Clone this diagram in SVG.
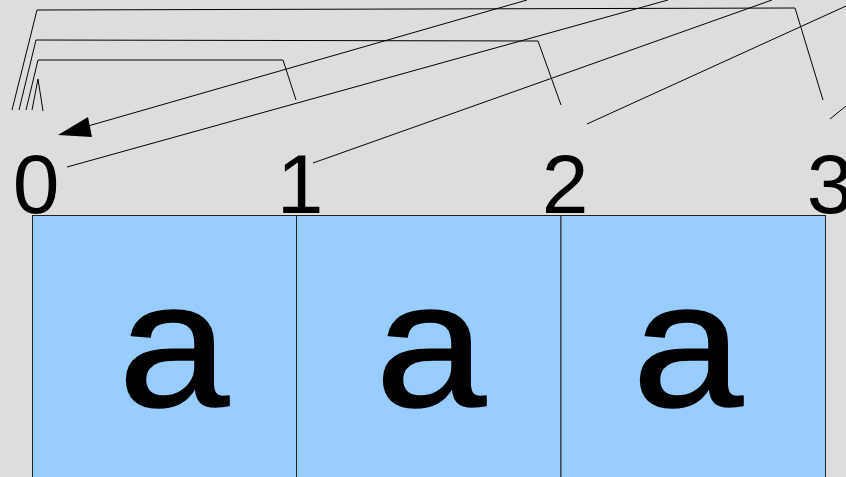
<svg xmlns="http://www.w3.org/2000/svg" width="846" height="477" viewBox="0 0 846 477">
<style>
.ln{fill:none;stroke:#000;stroke-width:1}
.num{font-family:"Liberation Sans",Arial,Helvetica,sans-serif;font-size:84px;fill:#000;text-anchor:middle}
.ch{font-family:"Liberation Mono","Courier New",monospace;font-size:178px;fill:#000;stroke:#000;stroke-width:1.5;stroke-linejoin:round;text-anchor:middle}
.cell{fill:#99ccff;stroke:#222;stroke-width:1}
</style>
<rect width="846" height="477" fill="#dddddd"/>
<g id="connectors">
<path class="ln" d="M12,110 L37,10 L795,8 L823,100"/>
<path class="ln" d="M19,110 L36,40 L538,41 L561,105"/>
<path class="ln" d="M26,110 L38,60 L283,60 L296,100"/>
<path class="ln" d="M32,110 L38,79 L43,111"/>
<path class="ln" d="M527,0 L88,126"/>
<path d="M58,135 L88,117 L92,137 Z" fill="#000"/>
<path class="ln" d="M67,167 L668,0"/>
<path class="ln" d="M313,163 L772,0"/>
<path class="ln" d="M587,124 L846,6"/>
<path class="ln" d="M830,119 L846,106"/>
</g>
<g id="index-labels">
<text class="num" x="36" y="213">0</text>
<text class="num" x="300" y="213">1</text>
<text class="num" x="565" y="213">2</text>
<text class="num" x="830" y="213">3</text>
</g>
<g id="cell-0">
<rect class="cell" x="32.5" y="215.5" width="264" height="270"/>
<text class="ch" transform="translate(175,406) scale(1.14,1)">a</text>
</g>
<g id="cell-1">
<rect class="cell" x="296.5" y="215.5" width="264.5" height="270"/>
<text class="ch" transform="translate(432,406) scale(1.14,1)">a</text>
</g>
<g id="cell-2">
<rect class="cell" x="561" y="215.5" width="264.5" height="270"/>
<text class="ch" transform="translate(689,406) scale(1.14,1)">a</text>
</g>
</svg>
